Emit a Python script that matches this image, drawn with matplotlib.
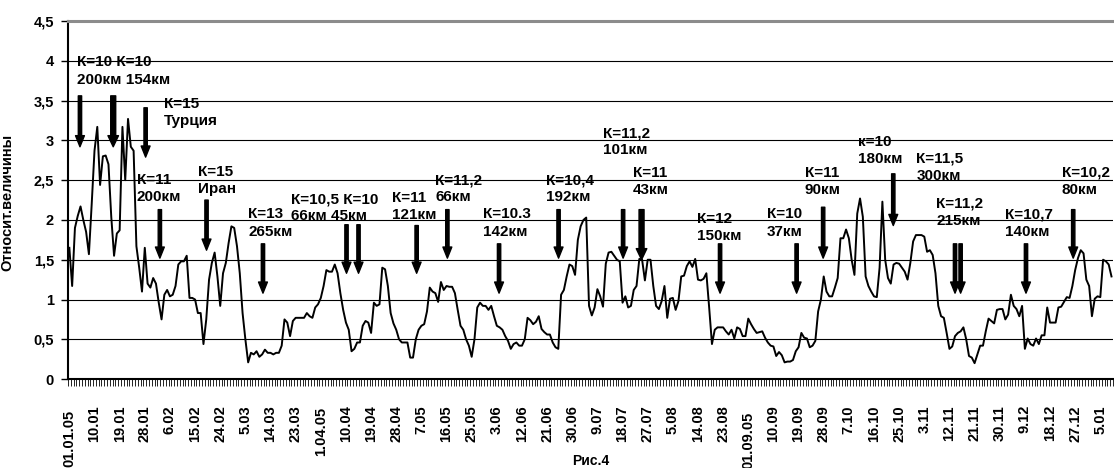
import numpy as np
import matplotlib.pyplot as plt
import matplotlib.transforms as mtransforms

plt.rcParams['font.family'] = ['Liberation Sans', 'DejaVu Sans']
plt.rcParams['font.weight'] = 'bold'

# daily relative values, 01.01.05 .. 07.01.06
values = [
    1.65, 1.17, 1.90, 2.05, 2.17, 2.00, 1.85, 1.57, 2.20, 2.87,
    3.17, 2.44, 2.80, 2.81, 2.70, 2.04, 1.55, 1.83, 1.87, 3.17,
    2.50, 3.27, 2.92, 2.87, 1.67, 1.40, 1.10, 1.65, 1.20, 1.15,
    1.27, 1.20, 0.96, 0.75, 1.06, 1.12, 1.04, 1.06, 1.17, 1.44,
    1.48, 1.48, 1.55, 1.02, 1.02, 1.00, 0.83, 0.83, 0.44, 0.75,
    1.25, 1.46, 1.59, 1.29, 0.92, 1.33, 1.46, 1.71, 1.92, 1.90,
    1.67, 1.33, 0.83, 0.50, 0.21, 0.33, 0.31, 0.35, 0.28, 0.31,
    0.37, 0.33, 0.33, 0.31, 0.33, 0.33, 0.42, 0.75, 0.71, 0.54,
    0.73, 0.77, 0.77, 0.77, 0.77, 0.83, 0.79, 0.77, 0.90, 0.94,
    1.02, 1.17, 1.37, 1.35, 1.35, 1.44, 1.33, 1.08, 0.87, 0.71,
    0.62, 0.35, 0.38, 0.46, 0.46, 0.67, 0.73, 0.71, 0.58, 0.96,
    0.92, 0.94, 1.40, 1.38, 1.17, 0.83, 0.70, 0.62, 0.50, 0.46,
    0.46, 0.46, 0.27, 0.27, 0.50, 0.62, 0.67, 0.69, 0.85, 1.15,
    1.10, 1.08, 0.97, 1.22, 1.12, 1.17, 1.16, 1.16, 1.08, 0.87,
    0.67, 0.62, 0.50, 0.42, 0.28, 0.50, 0.90, 0.96, 0.92, 0.92,
    0.87, 0.92, 0.79, 0.67, 0.65, 0.62, 0.54, 0.48, 0.38, 0.44,
    0.46, 0.42, 0.42, 0.50, 0.77, 0.74, 0.69, 0.72, 0.79, 0.63,
    0.59, 0.56, 0.56, 0.46, 0.40, 0.38, 1.06, 1.12, 1.29, 1.44,
    1.42, 1.31, 1.75, 1.92, 2.00, 2.03, 0.92, 0.80, 0.90, 1.13,
    1.04, 0.91, 1.45, 1.59, 1.60, 1.55, 1.50, 1.48, 0.96, 1.04,
    0.90, 0.92, 1.12, 1.17, 1.51, 1.50, 1.24, 1.50, 1.50, 1.17,
    0.92, 0.88, 0.98, 1.17, 0.77, 1.01, 1.02, 0.87, 0.98, 1.29,
    1.30, 1.42, 1.48, 1.41, 1.51, 1.25, 1.24, 1.26, 1.33, 0.90,
    0.44, 0.62, 0.65, 0.65, 0.65, 0.60, 0.56, 0.62, 0.51, 0.65,
    0.63, 0.54, 0.54, 0.76, 0.69, 0.63, 0.58, 0.59, 0.60, 0.52,
    0.46, 0.42, 0.41, 0.29, 0.34, 0.30, 0.21, 0.22, 0.22, 0.24,
    0.35, 0.40, 0.58, 0.52, 0.51, 0.40, 0.42, 0.48, 0.85, 1.00,
    1.29, 1.10, 1.04, 1.04, 1.15, 1.27, 1.77, 1.77, 1.88, 1.77,
    1.50, 1.31, 2.08, 2.27, 2.04, 1.29, 1.17, 1.10, 1.04, 1.03,
    1.40, 2.23, 1.50, 1.27, 1.20, 1.44, 1.46, 1.45, 1.40, 1.35,
    1.25, 1.46, 1.73, 1.81, 1.81, 1.81, 1.79, 1.60, 1.62, 1.56,
    1.33, 0.92, 0.79, 0.77, 0.58, 0.38, 0.41, 0.54, 0.58, 0.60,
    0.65, 0.50, 0.29, 0.27, 0.20, 0.31, 0.42, 0.42, 0.60, 0.76,
    0.73, 0.70, 0.87, 0.88, 0.88, 0.75, 0.81, 1.06, 0.92, 0.88,
    0.79, 0.92, 0.38, 0.51, 0.44, 0.42, 0.51, 0.44, 0.55, 0.55,
    0.90, 0.71, 0.71, 0.71, 0.90, 0.91, 0.97, 1.03, 1.02, 1.17,
    1.37, 1.52, 1.62, 1.58, 1.25, 1.17, 0.79, 1.01, 1.04, 1.03,
    1.50, 1.48, 1.44, 1.29,
]

# date labels, one every 9 days
tick_labels = ['01.01.05', '10.01', '19.01', '28.01', '6.02', '15.02', '24.02',
               '5.03', '14.03', '23.03', '1.04.05', '10.04', '19.04', '28.04',
               '7.05', '16.05', '25.05', '3.06', '12.06', '21.06', '30.06',
               '9.07', '18.07', '27.07', '5.08', '14.08', '23.08', '01.09.05',
               '10.09', '19.09', '28.09', '7.10', '16.10', '25.10', '3.11',
               '12.11', '21.11', '30.11', '9.12', '18.12', '27.12', '5.01']
tick_step = 9
# how far below the axis each label starts (pixels)
label_drop = {'01.01.05': 31, '1.04.05': 28, '01.09.05': 33}

# earthquake notes: text, left day, top value
note_text = ['К=10 К=10\n200км 154км', 'К=15\nТурция', 'К=11\n200км',
             'К=15\nИран', 'К=13\n265км', 'К=10,5 К=10\n66км 45км',
             'К=11\n121км', 'К=11,2\n66км', 'К=10.3\n142км', 'К=10,4\n192км',
             'К=11,2\n101км', 'К=11\n43км', 'К=12\n150км', 'К=10\n37км',
             'К=11\n90км', 'к=10\n180км', 'К=11,5\n300км', 'К=11,2\n215км',
             'К=10,7\n140км', 'К=10,2\n80км']
note_x = [2.8, 33.9, 24.1, 46.1, 64.0, 79.3, 115.5, 130.9, 148.2, 170.5,
          191.1, 201.8, 224.5, 249.6, 263.3, 282.4, 303.2, 310.2, 334.9, 355.2]
note_y = [4.07, 3.55, 2.59, 2.69, 2.16, 2.35, 2.37, 2.59, 2.16, 2.59,
          3.18, 2.68, 2.10, 2.16, 2.68, 3.07, 2.86, 2.29, 2.16, 2.68]

# event arrows: day, top value, tip value
arrow_x = [3.8, 15.7, 27.3, 32.4, 49.1, 69.3, 99.2, 103.5, 124.3, 135.3, 153.8,
           175.1, 198.2, 204.8, 232.9, 260.3, 269.8, 294.9, 317.0, 319.0,
           342.4, 359.3]
arrow_top = [3.56, 3.56, 3.41, 2.13, 2.25, 1.70, 1.94, 1.94, 1.93, 2.13, 1.70,
             2.13, 2.13, 2.13, 1.70, 1.70, 2.16, 2.58, 1.70, 1.70, 1.70, 2.13]
arrow_tip = [2.92, 2.92, 2.79, 1.52, 1.62, 1.08, 1.33, 1.33, 1.33, 1.52, 1.08,
             1.52, 1.52, 1.50, 1.08, 1.08, 1.52, 1.93, 1.08, 1.08, 1.08, 1.52]
thick_arrows = [1, 13]

fig = plt.figure(figsize=(11.14, 4.68), dpi=100)
ax = fig.add_axes([0.061, 0.190, 0.938, 0.765])

days = np.arange(len(values))
ax.plot(days, values, color='black', lw=1.4, zorder=3)

ax.set_xlim(-0.5, 373.5)
ax.set_ylim(0, 4.5)
ax.set_yticks(np.arange(0, 4.51, 0.5))
ax.set_yticklabels([f'{v:g}'.replace('.', ',') for v in np.arange(0, 4.51, 0.5)],
                   fontsize=10.5, fontweight='bold')
ax.tick_params(axis='y', length=5, width=1, pad=5)
ax.grid(axis='y', color='black', lw=0.8)

ax.set_xticks(np.arange(0, len(tick_labels) * tick_step, tick_step))
ax.set_xticklabels([])
ax.tick_params(axis='x', which='major', length=0)
ax.set_xticks(np.arange(-0.5, 374, 1), minor=True)
ax.tick_params(axis='x', which='minor', length=5, width=0.6, direction='out')

ax.spines['right'].set_visible(False)
ax.spines['top'].set_color('#8c8c8c')
ax.spines['top'].set_linewidth(2.2)
ax.spines['left'].set_linewidth(1.5)
ax.spines['bottom'].set_linewidth(1.5)

base = mtransforms.blended_transform_factory(ax.transData, ax.transAxes)
for k, lab in enumerate(tick_labels):
    drop = label_drop.get(lab, 26)
    tr = mtransforms.offset_copy(base, fig=fig, x=0, y=-drop, units='dots')
    ax.text(k * tick_step, 0, lab, transform=tr, rotation=90, ha='center',
            va='top', fontsize=10.5, fontweight='bold', clip_on=False)

for k in range(len(arrow_x)):
    w = 3.6 if k in thick_arrows else 2.4
    ax.annotate('', xy=(arrow_x[k], arrow_tip[k]), xytext=(arrow_x[k], arrow_top[k]),
                arrowprops=dict(facecolor='black', edgecolor='black', width=w,
                                headwidth=w + 4, headlength=8, shrink=0),
                zorder=4)

for k in range(len(note_text)):
    ax.text(note_x[k], note_y[k], note_text[k], ha='left', va='top',
            fontsize=11, fontweight='bold', linespacing=1.3, zorder=5)

fig.text(7 / 1114, 1 - 202 / 468, 'Относит.величины', rotation=90,
         ha='center', va='center', fontsize=10.5, fontweight='bold')
fig.text(591 / 1114, 0.0, 'Рис.4', ha='center', va='bottom',
         fontsize=10, fontweight='bold')

fig.savefig('out.png', dpi=100)
